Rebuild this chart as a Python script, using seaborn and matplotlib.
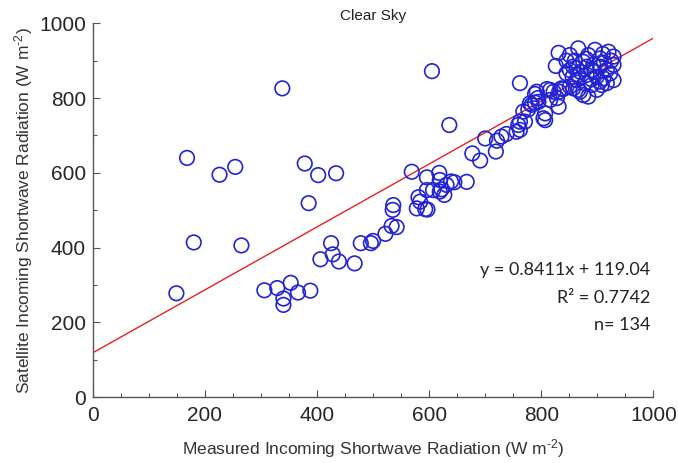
import matplotlib
matplotlib.use("Agg")
import matplotlib.pyplot as plt
from matplotlib.ticker import MultipleLocator
import seaborn as sns
import numpy as np
import pandas as pd

measured = [338, 168, 226, 254, 378, 402, 434, 385, 180, 265, 149, 425, 428, 406, 439,
            467, 478, 496, 500, 306, 329, 353, 366, 388, 340, 340, 605,
            636, 569, 596, 618, 619, 639, 645, 667, 596, 607, 622, 631, 627, 619,
            581, 584, 578, 593, 597, 536, 535, 533, 542, 522, 677, 691, 700, 719,
            721, 729, 738, 756, 759, 771,
            762, 789, 810, 822, 832, 839, 828, 789, 780, 831, 807, 807, 768, 762,
            762, 875, 884, 866, 857, 826, 851, 863, 881, 893, 905, 917, 929, 866,
            881, 899, 911, 923, 878, 890, 905, 917, 929, 831, 866, 851, 896, 920,
            929, 884, 905, 875, 857, 845, 890, 863, 899, 908, 851, 836, 816, 792,
            795, 783, 804, 816, 869, 794, 777, 860, 912, 880, 925, 870, 895, 845,
            910, 856, 890]
satellite = [826, 640, 595, 616, 625, 594, 599, 519, 414, 406, 278, 412, 382, 369, 363,
             358, 412, 412, 418, 286, 292, 306, 280, 285, 264, 247, 872,
             728, 603, 588, 600, 581, 577, 575, 576, 554, 554, 556, 568, 541, 550,
             535, 523, 505, 503, 502, 514, 501, 458, 455, 437, 652, 633, 692, 657,
             686, 697, 704, 710, 728, 737,
             840, 811, 824, 817, 817, 824, 800, 788, 786, 777, 759, 741, 764, 737,
             715, 808, 804, 822, 826, 886, 875, 880, 884, 889, 884, 875, 889, 862,
             862, 857, 853, 866, 840, 835, 844, 840, 848, 921, 933, 915, 929, 924,
             911, 915, 906, 897, 884, 866, 875, 848, 822, 835, 831, 826, 822, 817,
             790, 782, 746, 795, 817, 800, 770, 900, 895, 905, 900, 870, 870, 900,
             918, 857, 850]

slope = 0.8411
intercept = 119.04
fit_x = [0, 1000]
x_ticks = [0, 200, 400, 600, 800, 1000]
y_ticks = [0, 200, 400, 600, 800, 1000]
eq_lines = ["y = 0.8411x + 119.04", "R² = 0.7742", "n= 134"]

df = pd.DataFrame({"measured": measured, "satellite": satellite})
fit_df = pd.DataFrame({"x": fit_x, "y": [slope * v + intercept for v in fit_x]})

sns.set_style("ticks")
plt.rcParams["font.family"] = ["Liberation Sans", "DejaVu Sans"]
plt.rcParams["axes.unicode_minus"] = False
plt.rcParams["mathtext.fontset"] = "custom"
plt.rcParams["mathtext.rm"] = "Liberation Sans"
plt.rcParams["mathtext.it"] = "Liberation Sans:italic"
plt.rcParams["mathtext.bf"] = "Liberation Sans:bold"

fig = plt.figure(figsize=(6.78, 4.63), dpi=100)
ax = fig.add_axes([0.137, 0.142, 0.8266, 0.8077])

sns.lineplot(data=fit_df, x="x", y="y", ax=ax, color="#e8201f", linewidth=1.0, zorder=1)
sns.scatterplot(data=df, x="measured", y="satellite", ax=ax, marker="o", s=110,
                facecolor="none", edgecolor="#2323d6", linewidth=1.2, zorder=2)

ax.set_xlim(0, 1000)
ax.set_ylim(0, 1000)
ax.set_xticks(x_ticks)
ax.set_yticks(y_ticks)
ax.xaxis.set_minor_locator(MultipleLocator(50))
ax.yaxis.set_minor_locator(MultipleLocator(100))
ax.tick_params(axis="both", which="major", direction="in", length=5, width=0.8,
               colors="#555555", labelcolor="#262626", labelsize=15)
ax.tick_params(axis="x", which="major", pad=6)
ax.tick_params(axis="y", which="major", pad=5)
ax.tick_params(axis="both", which="minor", direction="in", length=3, width=0.8, colors="#555555")
for s in ["top", "right"]:
    ax.spines[s].set_visible(False)
for s in ["left", "bottom"]:
    ax.spines[s].set_color("#555555")
    ax.spines[s].set_linewidth(1.0)

ax.set_xlabel(r"Measured Incoming Shortwave Radiation (W m$^{\text{-2}}$)", fontsize=12.5,
              color="#333333", labelpad=9)
ax.set_ylabel(r"Satellite Incoming Shortwave Radiation (W m$^{\text{-2}}$)", fontsize=12.5,
              color="#333333", labelpad=3)
ax.set_title("Clear Sky", fontsize=11, color="#222222", pad=-5)

for i, t in enumerate(eq_lines):
    ax.text(0.995, 0.34 - i * 0.074, t, transform=ax.transAxes, ha="right", va="center",
            fontsize=13, family=["Lato", "DejaVu Sans"], color="#222222")

fig.savefig("out.png", dpi=100)
